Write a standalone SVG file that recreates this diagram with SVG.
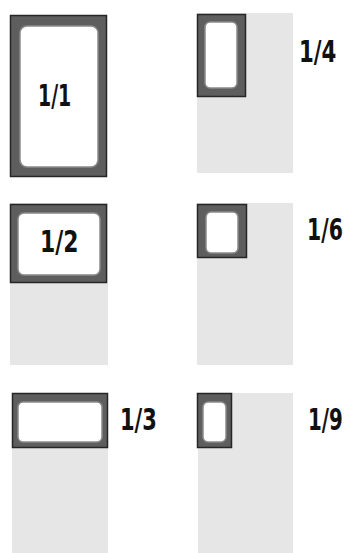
<svg xmlns="http://www.w3.org/2000/svg" width="347" height="553" viewBox="0 0 347 553">
<style>
.bg{fill:#e6e6e6}
.frame{fill:#5e5e5e;stroke:#262626;stroke-width:1.5}
.inner{fill:#ffffff;stroke:#8a8a8a;stroke-width:1.5}
.lbl{font-family:"DejaVu Sans","Liberation Sans",sans-serif;font-weight:bold;font-size:30px;fill:#111}
</style>
<rect width="347" height="553" fill="#ffffff"/>
<g id="pan-1-1">
<rect class="frame" x="10.5" y="15.5" width="96" height="161"/>
<rect class="inner" x="20" y="26" width="78" height="141" rx="7"/>
<text class="lbl" transform="translate(38,106) scale(0.63,1)" font-size="34">1/1</text>
</g>
<g id="pan-1-4">
<rect class="bg" x="197" y="13" width="96" height="160"/>
<rect class="frame" x="197.5" y="14.5" width="48" height="82"/>
<rect class="inner" x="205" y="22" width="32" height="66" rx="5"/>
<text class="lbl" transform="translate(299,62) scale(0.71,1)">1/4</text>
</g>
<g id="pan-1-2">
<rect class="bg" x="10" y="203" width="98" height="162"/>
<rect class="frame" x="10.5" y="204.5" width="96" height="78"/>
<rect class="inner" x="18" y="213" width="82" height="62" rx="6"/>
<text class="lbl" transform="translate(40,252) scale(0.73,1)">1/2</text>
</g>
<g id="pan-1-6">
<rect class="bg" x="197" y="203" width="96" height="162"/>
<rect class="frame" x="197.5" y="204.5" width="49" height="53"/>
<rect class="inner" x="206" y="212" width="32" height="41" rx="5"/>
<text class="lbl" transform="translate(307,240) scale(0.68,1)">1/6</text>
</g>
<g id="pan-1-3">
<rect class="bg" x="12" y="393" width="96" height="160"/>
<rect class="frame" x="12.5" y="393.5" width="95" height="54"/>
<rect class="inner" x="18" y="402" width="84" height="40" rx="5"/>
<text class="lbl" transform="translate(120,430) scale(0.70,1)">1/3</text>
</g>
<g id="pan-1-9">
<rect class="bg" x="198" y="393" width="95" height="160"/>
<rect class="frame" x="197.5" y="393.5" width="34" height="54"/>
<rect class="inner" x="203" y="402" width="23" height="40" rx="5"/>
<text class="lbl" transform="translate(308,430) scale(0.66,1)">1/9</text>
</g>
<g id="connectors"/>
</svg>
